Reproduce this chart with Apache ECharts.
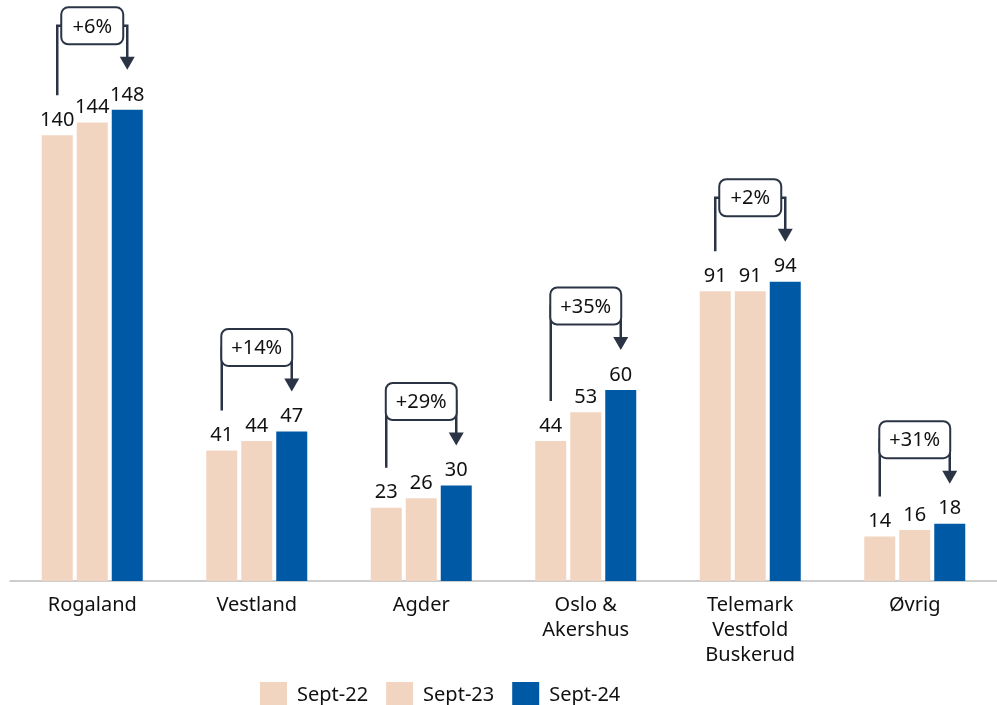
<!DOCTYPE html>
<html>
<head>
<meta charset="utf-8">
<script src="https://cdn.jsdelivr.net/npm/echarts@6/dist/echarts.min.js"></script>
<style>
html,body{margin:0;padding:0;background:#fff;}
#main{width:997px;height:705px;}
</style>
</head>
<body>
<div id="main"></div>
<script>
const categories = ['Rogaland', 'Vestland', 'Agder', 'Oslo &\nAkershus', 'Telemark\nVestfold\nBuskerud', 'Øvrig'];
const seriesNames = ['Sept-22', 'Sept-23', 'Sept-24'];
const sept22 = [140, 41, 23, 44, 91, 14];
const sept23 = [144, 44, 26, 53, 91, 16];
const sept24 = [148, 47, 30, 60, 94, 18];
const changeLabels = ['+6%', '+14%', '+29%', '+35%', '+2%', '+31%'];

const FONT = 'Noto Sans';
const FS = 20;
const PEACH = '#f2d5c0';
const BLUE = '#0059a4';
const DARK = '#2b3445';
const BAR_W = 31;
const BAR_GAP = 4;

const measureCtx = document.createElement('canvas').getContext('2d');
measureCtx.font = FS + 'px "' + FONT + '"';

const chart = echarts.init(document.getElementById('main'), null, {renderer: 'canvas'});

const labelStyle = {
  show: true, position: 'top', distance: 5,
  fontFamily: FONT, fontSize: FS, color: '#111'
};

function renderBracket(params, api) {
  const i = api.value(0);
  const pl = api.coord([i, api.value(1)]);
  const pr = api.coord([i, api.value(2)]);
  const label = changeLabels[i];
  const off = BAR_W + BAR_GAP;
  const xl = pl[0] - off;
  const xr = pr[0] + off;
  const yl = pl[1] - 40;
  const ytip = pr[1] - 40;
  const yh = pr[1] - 84;
  const tw = measureCtx.measureText(label).width;
  const bw = Math.max(tw + 20, xr - xl - 8);
  const bh = 37;
  const cx = (xl + xr) / 2;
  return {
    type: 'group',
    children: [
      {
        type: 'polyline',
        shape: {points: [[xl, yl], [xl, yh], [xr, yh], [xr, ytip - 12]]},
        style: {stroke: DARK, lineWidth: 2.5, fill: null}
      },
      {
        type: 'polygon',
        shape: {points: [[xr - 7.5, ytip - 13], [xr + 7.5, ytip - 13], [xr, ytip]]},
        style: {fill: DARK}
      },
      {
        type: 'rect',
        shape: {x: cx - bw / 2, y: yh - bh / 2, width: bw, height: bh, r: 7},
        style: {fill: '#fff', stroke: DARK, lineWidth: 2}
      },
      {
        type: 'text',
        style: {
          text: label, x: cx, y: yh + 1, align: 'center', verticalAlign: 'middle',
          font: FS + 'px "' + FONT + '"', fill: '#111'
        }
      }
    ]
  };
}

const option = {
  animation: false,
  backgroundColor: '#fff',
  grid: {left: 10, top: 8, width: 995, bottom: 124, containLabel: false},
  legend: {
    data: seriesNames,
    left: 255, top: 677,
    icon: 'rect', itemWidth: 27, itemHeight: 27, itemGap: 18,
    textStyle: {fontFamily: FONT, fontSize: FS, color: '#111', padding: [0, 0, 0, 5]}
  },
  xAxis: {
    type: 'category',
    data: categories,
    axisTick: {show: false},
    axisLine: {lineStyle: {color: '#bdbdbd', width: 1.5}},
    axisLabel: {margin: 12, fontFamily: FONT, fontSize: FS, lineHeight: 25, color: '#111', interval: 0}
  },
  yAxis: {
    type: 'value', min: 0, max: 180,
    show: false, splitLine: {show: false}
  },
  series: [
    {name: seriesNames[0], type: 'bar', data: sept22, barWidth: BAR_W, barGap: (BAR_GAP / BAR_W * 100) + '%',
     itemStyle: {color: PEACH}, label: labelStyle},
    {name: seriesNames[1], type: 'bar', data: sept23, barWidth: BAR_W,
     itemStyle: {color: PEACH}, label: labelStyle},
    {name: seriesNames[2], type: 'bar', data: sept24, barWidth: BAR_W,
     itemStyle: {color: BLUE}, label: labelStyle},
    {
      type: 'custom', name: 'change',
      data: categories.map((c, i) => [i, sept22[i], sept24[i]]),
      encode: {x: 0, y: [1, 2]},
      renderItem: renderBracket,
      z: 10, silent: true
    }
  ]
};
chart.setOption(option);
</script>
</body>
</html>
